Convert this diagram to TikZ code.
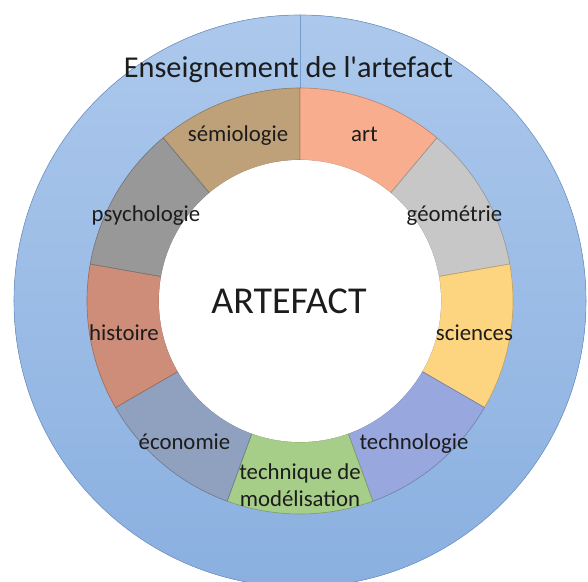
\documentclass[tikz,border=0pt]{standalone}
\usepackage{fontspec}
\setmainfont{Carlito}[Ligatures=TeXOff]
\begin{document}
\begin{tikzpicture}[x=1pt,y=1pt,
  seglabel/.style={font=\fontsize{22.8}{24}\selectfont, text=txt, anchor=base, inner sep=0pt},
  segline/.style={line width=0.6pt}]
\definecolor{txt}{RGB}{28,28,28}
\definecolor{ringtop}{RGB}{172,200,236}
\definecolor{ringbot}{RGB}{138,176,224}
\definecolor{ringedge}{RGB}{118,156,206}
\definecolor{csemio}{RGB}{191,161,121}
\definecolor{cart}{RGB}{247,173,142}
\definecolor{cgeom}{RGB}{199,199,199}
\definecolor{csci}{RGB}{253,213,128}
\definecolor{ctechno}{RGB}{152,168,222}
\definecolor{ctechn}{RGB}{166,206,136}
\definecolor{ceco}{RGB}{143,161,191}
\definecolor{chist}{RGB}{206,141,120}
\definecolor{cpsy}{RGB}{152,152,152}
\useasboundingbox (-300,-280) rectangle (288,301);
\clip (-300,-280) rectangle (288,301);
\fill[white] (-300,-280) rectangle (288,301);
% outer ring
\fill[top color=ringtop, bottom color=ringbot] (0,0) circle (286);
\draw[ringedge, line width=0.6pt] (0,0) circle (286);
\draw[ringedge, line width=0.6pt] (90:213) -- (90:286);
% segments (40 degrees each)
\foreach \a/\c in {90/csemio,50/cart,10/cgeom,-30/csci,-70/ctechno,-110/ctechn,-150/ceco,-190/chist,-230/cpsy}{
  \fill[\c] (\a:141) -- (\a:213) arc[start angle=\a, end angle=\a+40, radius=213] -- (\a+40:141) arc[start angle=\a+40, end angle=\a, radius=141] -- cycle;
  \draw[\c!75!black, segline] (\a:141) -- (\a:213) arc[start angle=\a, end angle=\a+40, radius=213] -- (\a+40:141) arc[start angle=\a+40, end angle=\a, radius=141] -- cycle;
}
\fill[white] (0,0) circle (141);
% texts
\node[font=\fontsize{30.3}{32}\selectfont, text=txt, anchor=base, inner sep=0pt] (title) at (-11.5,223) {Enseignement de l'artefact};
\node[font=\fontsize{38}{40}\selectfont, text=txt, anchor=base, inner sep=0pt] (artefact) at (-11,-12) {ARTEFACT};
\node[seglabel] (semio) at (-62,159) {sémiologie};
\node[seglabel] (art) at (64.5,159) {art};
\node[seglabel] (psy) at (-154,80) {psychologie};
\node[seglabel] (geom) at (154.5,80) {géométrie};
\node[seglabel] (hist) at (-176,-39) {histoire};
\node[seglabel] (sci) at (174.5,-39) {sciences};
\node[seglabel] (eco) at (-115.5,-148) {économie};
\node[seglabel] (techno) at (114,-148) {technologie};
\node[seglabel] (techn1) at (0,-178) {technique de};
\node[seglabel] (techn2) at (0,-205) {modélisation};
\end{tikzpicture}
\end{document}
